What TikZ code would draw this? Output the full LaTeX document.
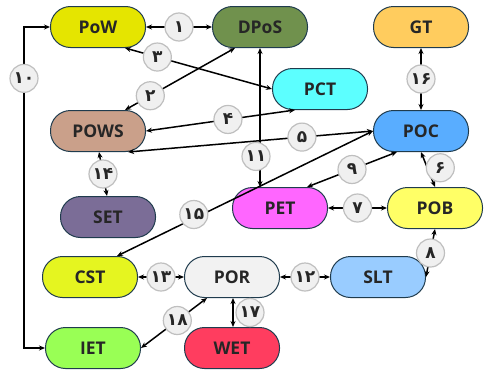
\documentclass[tikz,border=0pt]{standalone}
\usepackage{fontspec}
\setmainfont{Open Sans}
\newfontfamily\digitfont{DejaVu Sans}
\usetikzlibrary{arrows.meta}
\definecolor{rimc}{HTML}{1F3B4D}
\definecolor{powc}{HTML}{E5E500}
\definecolor{dposc}{HTML}{70914D}
\definecolor{gtc}{HTML}{FFCC5E}
\definecolor{pctc}{HTML}{5CFFFF}
\definecolor{powsc}{HTML}{CAA08A}
\definecolor{pocc}{HTML}{59ADFF}
\definecolor{setc}{HTML}{7B6D97}
\definecolor{petc}{HTML}{FF66FF}
\definecolor{pobc}{HTML}{FFFF66}
\definecolor{cstc}{HTML}{E5F520}
\definecolor{porc}{HTML}{F2F2F2}
\definecolor{sltc}{HTML}{99CCFF}
\definecolor{ietc}{HTML}{99FF55}
\definecolor{wetc}{HTML}{FF3D5F}
\tikzset{
  algo/.style={draw=rimc, line width=1pt, rounded corners=20pt, minimum width=95pt,
               minimum height=41pt, inner sep=0pt, text=black!85,
               font=\fontsize{17.5}{20}\selectfont\bfseries},
  num/.style={circle, draw=black!25, fill=black!6, line width=1.2pt, minimum size=28pt,
              inner sep=0pt, text=black!85, font=\digitfont\fontsize{17}{17}\selectfont\bfseries},
  link/.style={{Stealth[length=6pt,width=5pt]}-{Stealth[length=6pt,width=5pt]}, line width=1.5pt},
}

\begin{document}
\begin{tikzpicture}[x=1pt,y=-1pt]
\useasboundingbox (0,0) rectangle (484,372);
\node[algo, fill=powc] (PoW) at (98,27) {PoW};
\node[algo, fill=dposc] (DPoS) at (260,27) {DPoS};
\node[algo, fill=gtc] (GT) at (421,27) {GT};
\node[algo, fill=pctc] (PCT) at (320,89) {PCT};
\node[algo, fill=powsc] (POWS) at (98,131) {POWS};
\node[algo, fill=pocc] (POC) at (421,131) {POC};
\node[algo, fill=setc] (SET) at (108,217) {SET};
\node[algo, fill=petc] (PET) at (280,208) {PET};
\node[algo, fill=pobc] (POB) at (435,208) {POB};
\node[algo, fill=cstc] (CST) at (90,277) {CST};
\node[algo, fill=porc] (POR) at (232,277) {POR};
\node[algo, fill=sltc] (SLT) at (378,277) {SLT};
\node[algo, fill=ietc] (IET) at (93,348) {IET};
\node[algo, fill=wetc] (WET) at (232,348) {WET};
\foreach \a/\b/\n/\k in {PoW.east/DPoS.west/۱/1, PET.east/POB.west/۷/7, POB.south/SLT.east/۸/8,
                         POR.east/SLT.west/۱۲/12, CST.east/POR.west/۱۳/13, GT.south/POC.north/۱۶/16}
  \draw[link] (\a) -- node[num] (n\k) {\n} (\b);
\draw[link] ([xshift=27pt]POWS.north) -- node[num, pos=0.23] (n2) {۲} ([xshift=-25pt]DPoS.south);
\draw[link] ([xshift=27pt]PoW.south) -- node[num, pos=0.22] (n3) {۳} (PCT.west);
\draw[link] ([xshift=-25pt]PCT.south) -- node[num, pos=0.45] (n4) {۴} (POWS.east);
\draw[link] (POC.west) -- node[num, pos=0.29] (n5) {۵} ([xshift=30pt]POWS.south);
\draw[link] (POC.south) -- node[num, pos=0.45, xshift=13pt] (n6) {۶} (POB.north);
\draw[link] ([xshift=-24pt]POC.south) -- node[num] (n9) {۹} ([xshift=27pt]PET.north);
\draw[link] (PoW.west) -- ++(-26,0) coordinate (c10) -- node[num, pos=0.16] (n10) {۱۰}
  (c10 |- IET.west) -- (IET.west);
\draw[link] (DPoS.south) -- node[num, pos=0.78, xshift=-4pt] (n11) {۱۱} (DPoS.south |- PET.north);
\draw[link] ([xshift=1pt]POWS.south) -- node[num] (n14) {۱۴} ([xshift=-1pt]SET.north);
\draw[link] ([xshift=27pt]CST.north) -- node[num, pos=0.30, yshift=4pt] (n15) {۱۵} (POC.west);
\draw[link] ([xshift=1pt]POR.south) -- node[num, xshift=17pt] (n17) {۱۷} ([xshift=1pt]WET.north);
\draw[link] ([xshift=-25pt]POR.south) -- node[num, pos=0.45] (n18) {۱۸} (IET.east);
\end{tikzpicture}
\end{document}
